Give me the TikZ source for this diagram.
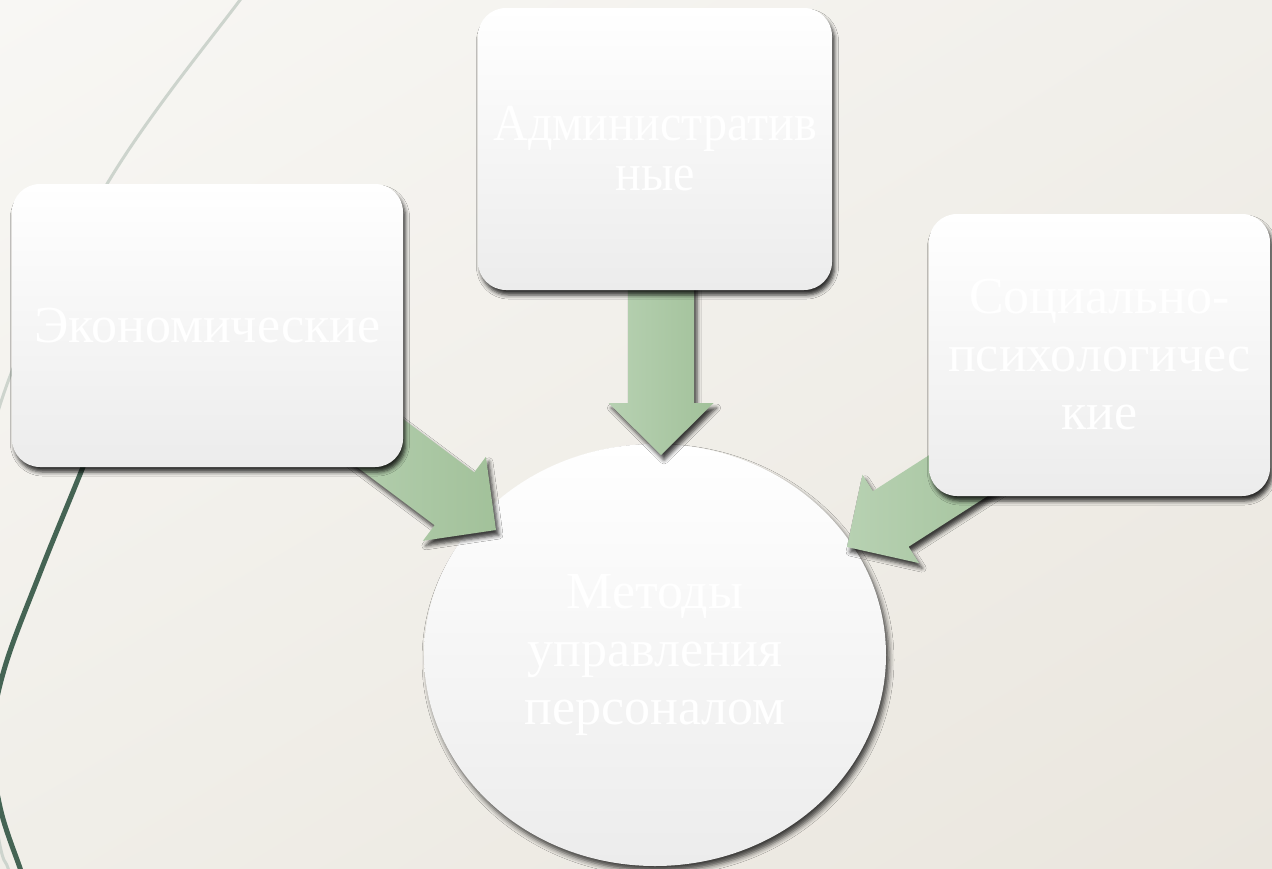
\documentclass[tikz,border=0pt]{standalone}
\usepackage{fontspec}
\setmainfont{Liberation Serif}
\newfontfamily\narrowserif[FakeStretch=0.925]{Liberation Serif}
\usetikzlibrary{shapes.geometric,shadows.blur,calc,shadings}
\definecolor{bgtl}{HTML}{F8F7F4}
\definecolor{bgtr}{HTML}{F1EFEA}
\definecolor{bgbl}{HTML}{F0EEE8}
\definecolor{bgbr}{HTML}{EAE6DE}
\definecolor{boxbot}{HTML}{ECECEC}
\definecolor{arrlight}{HTML}{B7D1B2}
\definecolor{arrdark}{HTML}{A2C19A}
\definecolor{darkgreen}{HTML}{456454}
\definecolor{thingray}{HTML}{CDD4CD}
\tikzset{
  boxstyle/.style={rectangle, rounded corners=28pt, top color=white, bottom color=boxbot,
    draw=none, align=center, inner sep=0pt, text=white,
    font=\fontsize{52}{58}\selectfont,
    blur shadow={shadow xshift=2.5pt, shadow yshift=-5pt, shadow blur radius=4pt, shadow opacity=80}},
  ovalstyle/.style={ellipse, top color=white, bottom color=boxbot, draw=none, align=center,
    inner sep=0pt, text=white, font=\fontsize{52}{58}\selectfont,
    blur shadow={shadow xshift=3pt, shadow yshift=-5pt, shadow blur radius=5pt, shadow opacity=75}},
  arrowstyle/.style={left color=arrlight, right color=arrdark, draw=none,
    blur shadow={shadow xshift=3pt, shadow yshift=-5pt, shadow blur radius=4pt, shadow opacity=75}},
}
\newcommand\fatarrow[3]{%
  \coordinate (#3h) at ($(#2)!52pt!(#1)$);
  \path[arrowstyle] ($(#1)!33pt!90:(#2)$) -- ($(#3h)!33pt!-90:(#1)$) -- ($(#3h)!52.5pt!-90:(#1)$)
    -- (#2) -- ($(#3h)!52.5pt!90:(#1)$) -- ($(#3h)!33pt!90:(#1)$) -- ($(#1)!33pt!-90:(#2)$) -- cycle;
}
\begin{document}
\begin{tikzpicture}[x=1pt, y=-1pt]
\useasboundingbox (0,0) rectangle (1272,868);
\shade[upper left=bgtl, upper right=bgtr, lower left=bgbl, lower right=bgbr] (0,0) rectangle (1272,868);
\begin{scope}
  \clip (0,0) rectangle (1272,868);
  \draw[thingray, line width=3pt] plot[smooth, tension=0.6] coordinates
    {(265,-30) (240,0) (107,184) (0,405) (-35,630) (-3,830) (8,868) (18,895)};
  \draw[darkgreen, line width=5pt] plot[smooth, tension=0.6] coordinates
    {(150,300) (83,467) (40,573) (4,670) (-8,740) (0,807) (20,868) (30,895)};
\end{scope}

\node[ovalstyle, minimum width=462pt, minimum height=422pt] (center) at (655,655)
  {Методы\\управления\\персоналом};

\coordinate (topTail) at (661,250);
\coordinate (topTip) at (661,455);
\coordinate (leftTail) at (332,407);
\coordinate (leftTip) at (496,530);
\coordinate (rightTail) at (1017,438);
\coordinate (rightTip) at (847,547);
\fatarrow{topTail}{topTip}{ta}
\fatarrow{leftTail}{leftTip}{la}
\fatarrow{rightTail}{rightTip}{ra}

\node[boxstyle, minimum width=391pt, minimum height=283pt] (econ) at (207.5,325.5) {Экономические};
\node[boxstyle, minimum width=354pt, minimum height=282pt, font=\narrowserif\fontsize{52}{50}\selectfont] (admin) at (655,149) {Административ\\ные};
\node[boxstyle, minimum width=341pt, minimum height=282pt] (social) at (1099.5,355) {Социально-\\психологичес\\кие};
\end{tikzpicture}
\end{document}
